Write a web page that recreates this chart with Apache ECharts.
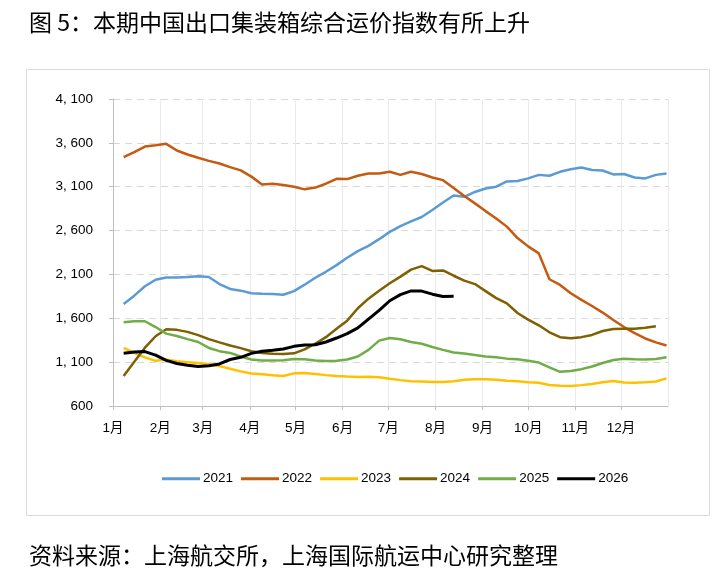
<!DOCTYPE html>
<html>
<head>
<meta charset="UTF-8">
<title>CCFI</title>
<script type="text/javascript" src="https://cdn.jsdelivr.net/npm/echarts@6/dist/echarts.min.js"></script>
<style>
  html, body { margin: 0; padding: 0; background: #fff; }
  #main { width: 720px; height: 575px; }
</style>
</head>
<body>
<div id="main"></div>

<script type="text/javascript">
	// 每周发布日期（月-日），各年份共用同一横轴
	var weeks = ['01-08','01-15','01-22','01-29','02-05','02-12','02-19','02-26',
		'03-05','03-12','03-19','03-26','04-02','04-09','04-16','04-23','04-30',
		'05-07','05-14','05-21','05-28','06-04','06-11','06-18','06-25',
		'07-02','07-09','07-16','07-23','07-30','08-06','08-13','08-20','08-27',
		'09-03','09-10','09-17','09-24','10-01','10-08','10-15','10-22','10-29',
		'11-05','11-12','11-19','11-26','12-03','12-10','12-17','12-24','12-31'];

	var years = ['2021','2022','2023','2024','2025','2026'];
	var colors = ['#5B9BD5','#C55A11','#FFC000','#7F6000','#70AD47','#000000'];

	var ccfi2021 = [1763,1858,1965,2040,2064,2066,2070,2078,2070,1990,1935,1915,
		1885,1880,1877,1868,1910,1983,2062,2130,2206,2290,2365,2426,2502,
		2585,2650,2705,2755,2835,2920,3000,2985,3040,3080,3100,3160,3165,
		3195,3235,3225,3270,3300,3320,3290,3285,3240,3245,3205,3195,3235,3250];
	var ccfi2022 = [3437,3494,3558,3573,3589,3513,3467,3430,3395,3365,3323,3286,
		3215,3125,3135,3120,3100,3070,3090,3134,3190,3187,3225,3250,3250,
		3270,3235,3270,3245,3205,3175,3085,2995,2910,2822,2738,2645,2515,
		2420,2340,2045,1980,1885,1810,1740,1665,1580,1500,1430,1370,1325,1290];
	var ccfi2023 = [1263,1205,1155,1115,1130,1110,1100,1090,1075,1055,1025,995,
		970,962,950,943,972,975,965,952,943,936,930,933,928,
		910,895,882,878,874,873,882,898,906,905,900,888,882,
		872,865,840,830,828,838,850,870,885,868,865,870,880,915];
	var ccfi2024 = [941,1105,1265,1395,1475,1468,1445,1408,1362,1325,1290,1260,
		1225,1205,1195,1192,1200,1245,1310,1385,1480,1573,1714,1824,1914,
		2000,2075,2155,2195,2140,2145,2085,2030,1990,1910,1830,1770,1660,
		1585,1520,1440,1385,1373,1385,1410,1455,1478,1480,1480,1492,1510];
	var ccfi2025 = [1554,1566,1566,1500,1425,1398,1362,1330,1262,1225,1205,1165,
		1130,1120,1118,1122,1136,1132,1118,1112,1116,1130,1165,1240,1345,
		1376,1360,1330,1310,1272,1240,1210,1198,1182,1165,1155,1140,1132,
		1115,1095,1040,990,1000,1020,1050,1090,1125,1138,1133,1130,1135,1155];
	var ccfi2026 = [1202,1215,1220,1180,1120,1085,1065,1050,1060,1080,1130,1155,
		1200,1225,1235,1250,1280,1296,1298,1330,1375,1425,1490,1590,1690,
		1800,1870,1912,1910,1875,1848,1850];

	var yTicks = { min: 600, max: 4100, interval: 500 };

	var allValues = [ccfi2021, ccfi2022, ccfi2023, ccfi2024, ccfi2025, ccfi2026];

	// 把周日期和数值拼成时间轴用的数据
	function pairs(vals) {
		var out = [];
		for (var i = 0; i < vals.length; i++) {
			out.push(['2021-' + weeks[i], vals[i]]);
		}
		return out;
	}

	var seriesList = [];
	for (var k = 0; k < years.length; k++) {
		seriesList.push({
			name: years[k],
			type: 'line',
			symbol: 'none',
			data: pairs(allValues[k]),
			lineStyle: { color: colors[k], width: k == 5 ? 3 : 2.5 },
			itemStyle: { color: colors[k] }
		});
	}

	var numFont = "'Liberation Sans', 'Noto Sans CJK SC', sans-serif";
	var cjkFont = "'Noto Sans CJK SC', sans-serif";

	var mychart = echarts.init(document.getElementById('main'));
	var option = {
		animation: false,
		backgroundColor: '#fff',
		color: colors,
		title: [{
			text: '图 5：本期中国出口集装箱综合运价指数有所上升',
			left: 24, top: 6,
			textStyle: { fontSize: 23, fontWeight: 'normal', color: '#000', fontFamily: cjkFont }
		}, {
			text: '资料来源：上海航交所，上海国际航运中心研究整理',
			left: 24, top: 539,
			textStyle: { fontSize: 23, fontWeight: 'normal', color: '#000', fontFamily: cjkFont }
		}],
		graphic: [{
			type: 'rect',
			left: 24, top: 67,
			shape: { width: 683, height: 446 },
			style: { fill: 'none', stroke: '#d9d9d9', lineWidth: 1 },
			silent: true
		}],
		legend: {
			data: years,
			left: 157, top: 467,
			icon: 'rect',
			itemWidth: 38, itemHeight: 3,
			itemGap: 8,
			textStyle: { fontSize: 13.5, color: '#000', fontFamily: numFont, padding: [0, 0, 0, -2] }
		},
		grid: { left: 113, right: 52, top: 99, bottom: 169 },
		xAxis: {
			type: 'time',
			min: new Date(2021, 0, 1).getTime(),
			max: new Date(2021, 11, 31, 23).getTime(),
			splitNumber: 12,
			minInterval: 28 * 86400000,
			maxInterval: 31 * 86400000,
			axisLine: { lineStyle: { color: '#bfbfbf' } },
			axisTick: { show: true, length: 4, lineStyle: { color: '#bfbfbf' } },
			axisLabel: {
				formatter: '{M}月',
				margin: 16,
				fontSize: 13.5, color: '#000', fontFamily: numFont,
				showMaxLabel: false,
				hideOverlap: false
			},
			splitLine: { show: true, lineStyle: { color: '#ebebeb', width: 1 } }
		},
		yAxis: {
			type: 'value',
			min: yTicks.min, max: yTicks.max, interval: yTicks.interval,
			axisLine: { show: true, lineStyle: { color: '#bfbfbf' } },
			axisTick: { show: true, length: 4, lineStyle: { color: '#bfbfbf' } },
			axisLabel: {
				margin: 20,
				fontSize: 13.5, color: '#000', fontFamily: numFont,
				formatter: function (v) {
					if (v < 1000) return String(v);
					var r = v % 1000;
					return Math.floor(v / 1000) + ', ' + (r < 10 ? '00' : r < 100 ? '0' : '') + r;
				}
			},
			splitLine: { show: true, lineStyle: { color: '#d9d9d9', type: [7, 5], width: 1 } }
		},
		series: seriesList
	};

	mychart.setOption(option);
</script>
</body>
</html>
